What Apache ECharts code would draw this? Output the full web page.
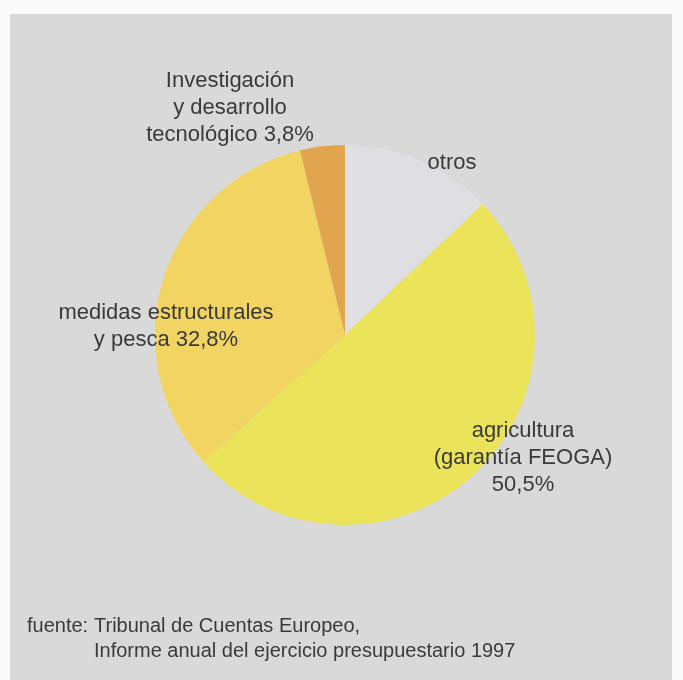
<!DOCTYPE html>
<html>
<head>
<meta charset="utf-8">
<script src="https://cdn.jsdelivr.net/npm/echarts@6/dist/echarts.min.js"></script>
<style>
  html, body { margin: 0; padding: 0; background: #fafafa; }
  #chart { width: 683px; height: 680px; }
</style>
</head>
<body>
<div id="chart"></div>
<script>
// datos: distribución del presupuesto (porcentajes)
var categorias = ['otros', 'agricultura (garantía FEOGA)', 'medidas estructurales y pesca', 'Investigación y desarrollo tecnológico'];
var valores = [12.9, 50.5, 32.8, 3.8];
var etiquetas = [
    'otros',
    'agricultura\n(garantía FEOGA)\n50,5%',
    'medidas estructurales\ny pesca 32,8%',
    'Investigación\ny desarrollo\ntecnológico 3,8%'
];
var fuente = ['fuente:', 'Tribunal de Cuentas Europeo,', 'Informe anual del ejercicio presupuestario 1997'];

var colores = ['#dfdee2', '#ebe35a', '#f1d462', '#e1a54f'];
// posición de cada etiqueta (centro del bloque de texto)
var posEtiquetas = [[452, 163], [523, 458], [166, 326], [230, 108]];

var myChart = echarts.init(document.getElementById('chart'));

var option = {
    animation: false,
    graphic: [
        {
            type: 'rect',
            z: -10,
            shape: { x: 10, y: 14, width: 662, height: 680 },
            style: { fill: '#d9d9d9' }
        },
        {
            type: 'text',
            left: 27, top: 614,
            style: { text: fuente[0], font: '20px "Liberation Sans"', lineHeight: 25, fill: '#3a3a3a' }
        },
        {
            type: 'text',
            left: 94, top: 614,
            style: { text: fuente[1] + '\n' + fuente[2], font: '20px "Liberation Sans"', lineHeight: 25, fill: '#3a3a3a' }
        }
    ],
    series: [{
        type: 'pie',
        center: [345, 335],
        radius: 190,
        startAngle: 90,
        clockwise: true,
        silent: true,
        data: categorias.map(function (c, i) {
            return {
                name: c,
                value: valores[i],
                itemStyle: { color: colores[i] },
                label: { formatter: etiquetas[i] }
            };
        }),
        itemStyle: { borderWidth: 0 },
        label: {
            show: true,
            position: 'outside',
            overflow: 'none',
            fontFamily: 'Liberation Sans',
            fontSize: 22,
            lineHeight: 27,
            color: '#3a3a3a',
            align: 'center'
        },
        labelLine: { show: false },
        labelLayout: function (params) {
            var p = posEtiquetas[params.dataIndex];
            return { x: p[0], y: p[1], align: 'center', verticalAlign: 'middle' };
        }
    }]
};

myChart.setOption(option);
</script>
</body>
</html>
